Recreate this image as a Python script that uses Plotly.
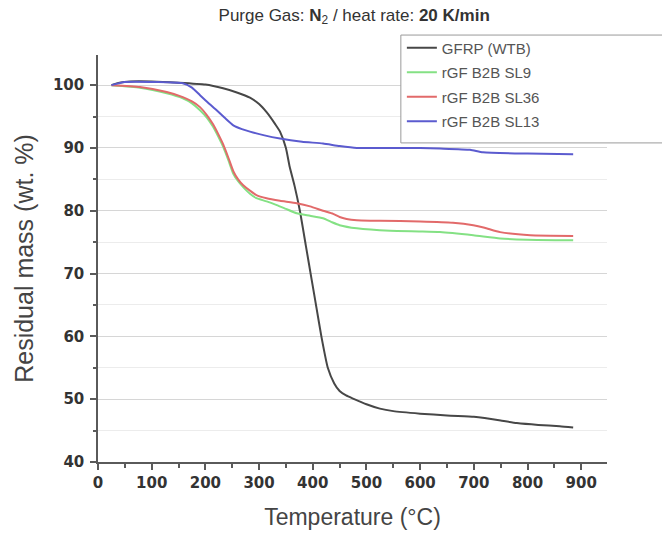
import plotly.graph_objects as go

# ---- data ----
t_gfrp = [25, 40, 60, 100, 150, 200, 233, 260, 283, 300, 314, 330, 339, 350, 357, 366, 376, 387,
          398, 407, 416, 428, 440, 450, 462, 475, 500, 525, 550, 600, 650, 700, 720, 750, 780,
          820, 860, 885]
m_gfrp = [100.0, 100.4, 100.6, 100.6, 100.4, 100.1, 99.5, 98.8, 98.0, 97.0, 95.7, 93.8, 92.6,
          90.0, 87.0, 84.0, 80.0, 74.5, 69.0, 64.5, 60.0, 55.0, 52.5, 51.3, 50.6, 50.1, 49.2,
          48.5, 48.1, 47.7, 47.4, 47.2, 47.0, 46.6, 46.2, 45.9, 45.7, 45.5]

t_sl9 = [25, 78, 128, 158, 175, 190, 203, 214, 224, 233, 243, 252, 261, 270, 283, 295, 314, 333,
         350, 370, 395, 419, 435, 450, 482, 544, 600, 637, 699, 749, 800, 885]
m_sl9 = [100.0, 99.6, 98.7, 97.9, 97.1, 96.0, 94.8, 93.4, 91.8, 90.2, 88.0, 85.9, 84.7, 83.8,
         82.7, 82.0, 81.5, 80.9, 80.3, 79.6, 79.2, 78.8, 78.2, 77.7, 77.2, 76.8, 76.7, 76.6,
         76.1, 75.6, 75.4, 75.3]

t_sl36 = [25, 78, 128, 158, 175, 190, 203, 214, 224, 233, 243, 252, 261, 270, 283, 295, 314, 339,
          370, 395, 419, 438, 450, 463, 482, 525, 600, 661, 699, 720, 749, 805, 885]
m_sl36 = [100.0, 99.7, 98.9, 98.1, 97.4, 96.5, 95.2, 93.8, 92.2, 90.6, 88.4, 86.3, 85.0, 84.1,
          83.2, 82.5, 82.0, 81.6, 81.2, 80.7, 80.0, 79.5, 79.0, 78.7, 78.5, 78.4, 78.3, 78.1,
          77.7, 77.3, 76.6, 76.1, 76.0]

t_sl13 = [25, 50, 109, 158, 175, 190, 205, 221, 236, 252, 268, 283, 310, 339, 380, 419, 450, 482,
          544, 600, 637, 693, 717, 800, 885]
m_sl13 = [100.0, 100.5, 100.5, 100.3, 99.6, 98.4, 97.2, 96.0, 94.8, 93.6, 93.0, 92.6, 92.0,
          91.5, 91.0, 90.7, 90.3, 90.0, 90.0, 90.0, 89.9, 89.7, 89.3, 89.1, 89.0]

series = [
    ("GFRP (WTB)", t_gfrp, m_gfrp, "#474747"),
    ("rGF B2B SL9", t_sl9, m_sl9, "#84e184"),
    ("rGF B2B SL36", t_sl36, m_sl36, "#e26a6a"),
    ("rGF B2B SL13", t_sl13, m_sl13, "#5b5bcf"),
]

x_ticks = [0, 100, 200, 300, 400, 500, 600, 700, 800, 900]
y_ticks = [40, 50, 60, 70, 80, 90, 100]

fig = go.Figure()
for i, (name, t, m, c) in enumerate(series):
    fig.add_trace(go.Scatter(
        x=t, y=m, name=name, mode="lines", legendgroup=f"g{i}",
        line=dict(color=c, width=2, shape="spline", smoothing=0.5),
    ))

axis_common = dict(
    showline=True, linecolor="#5a5a5a", linewidth=1.5,
    ticks="outside", ticklen=6, tickwidth=1.5, tickcolor="#5a5a5a",
    zeroline=False, automargin=False,
    tickfont=dict(family="DejaVu Sans", size=15, color="#333333", weight="bold"),
)

fig.update_layout(
    width=662, height=533,
    margin=dict(l=98, r=55, t=55, b=71),
    paper_bgcolor="white", plot_bgcolor="white",
    title=dict(
        text="Purge Gas: <b>N</b><sub>2</sub> / heat rate: <b>20 K/min</b>",
        x=0.535, xanchor="center", y=0.972, yanchor="middle",
        font=dict(family="Liberation Sans, Arial", size=17, color="#333333"),
    ),
    xaxis=dict(
        range=[0, 948], tickvals=x_ticks, showgrid=False,
        minor=dict(dtick=50, tick0=0, ticks="outside", ticklen=4, tickcolor="#5a5a5a", showgrid=False),
        title=dict(text="Temperature (°C)", standoff=18,
                   font=dict(family="Liberation Sans, Arial", size=23, color="#444444")),
        **axis_common,
    ),
    yaxis=dict(
        range=[40, 104.8], tickvals=y_ticks, showgrid=True, gridcolor="#d6d6d6", gridwidth=1,
        minor=dict(dtick=5, tick0=0, ticks="outside", ticklen=3, tickcolor="#5a5a5a",
                   showgrid=True, gridcolor="#ececec", gridwidth=1),
        ticklabelstandoff=3,
        title=dict(text="Residual mass (wt. %)", standoff=12,
                   font=dict(family="Liberation Sans, Arial", size=25, color="#444444")),
        **axis_common,
    ),
    legend=dict(
        x=0.597, xanchor="left", y=1.058, yanchor="top",
        bgcolor="rgba(0,0,0,0)", borderwidth=0,
        font=dict(family="Liberation Sans, Arial", size=15, color="#555555"),
        tracegroupgap=2, traceorder="grouped",
    ),
    shapes=[dict(
        type="rect", xref="paper", yref="paper",
        x0=0.595, x1=1.2, y0=0.784, y1=1.049,
        fillcolor="white", line=dict(color="#9a9a9a", width=1), layer="above",
    )],
)

fig.write_html("out.html")
